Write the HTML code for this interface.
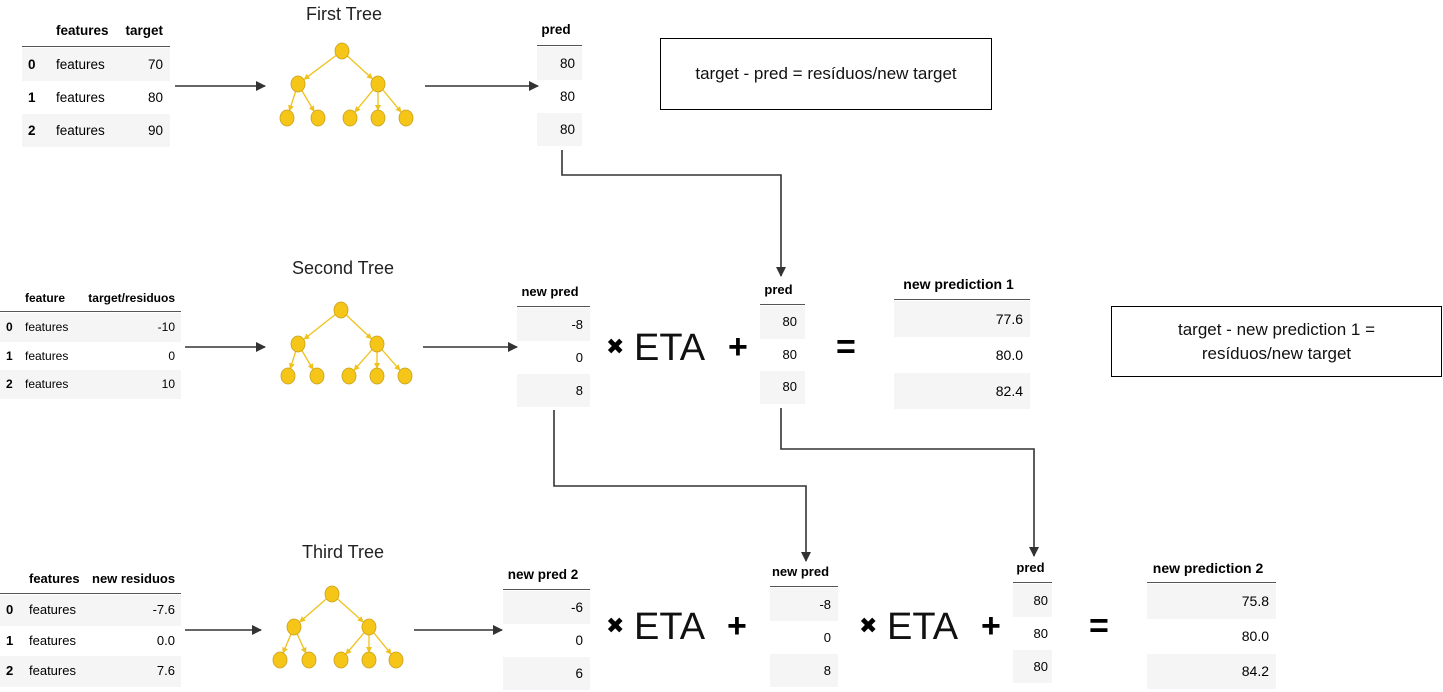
<!DOCTYPE html>
<html><head><meta charset="utf-8">
<style>
html,body{margin:0;padding:0;background:#fff;}
body{width:1443px;height:692px;position:relative;overflow:hidden;font-family:"Liberation Sans",Arial,sans-serif;color:#000;}
.abs{position:absolute;}
.cell{position:absolute;box-sizing:border-box;white-space:nowrap;}
.title{position:absolute;font-size:18px;color:#222;transform:translateX(-50%);white-space:nowrap;}
.op{position:absolute;font-weight:bold;}
.x{position:absolute;font-family:"DejaVu Sans",sans-serif;font-size:22px;color:#000;}
.eta{position:absolute;font-size:38px;color:#111;}
.box{position:absolute;border:1px solid #000;box-sizing:border-box;display:flex;align-items:center;justify-content:center;text-align:center;font-size:17px;line-height:24px;color:#111;}
svg{position:absolute;left:0;top:0;}
</style></head>
<body>
<svg id="lines" width="1443" height="692">
<defs>
<marker id="ah" markerWidth="10" markerHeight="10" refX="9" refY="5" orient="auto" markerUnits="userSpaceOnUse"><path d="M0,0 L10,5 L0,10 z" fill="#333"/></marker>
<marker id="ay" markerWidth="6" markerHeight="6" refX="5" refY="3" orient="auto" markerUnits="userSpaceOnUse"><path d="M0,0 L6,3 L0,6 z" fill="#f0c11a"/></marker>
</defs>
</svg>

<div class="title" style="left:344px;top:4px;">First Tree</div>
<div class="title" style="left:343px;top:258px;">Second Tree</div>
<div class="title" style="left:343px;top:542px;">Third Tree</div>

<div class="box" style="left:660px;top:38px;width:332px;height:72px;">target - pred = resíduos/new target</div>
<div class="box" style="left:1111px;top:306px;width:331px;height:71px;">target - new prediction 1 =<br>resíduos/new target</div>

<div class="x" style="left:606px;top:335px;">✖</div>
<div class="eta" style="left:634px;top:327px;">ETA</div>
<div class="op" style="left:728px;top:328px;font-size:34px;">+</div>
<div class="op" style="left:836px;top:328px;font-size:34px;">=</div>

<div class="x" style="left:606px;top:614px;">✖</div>
<div class="eta" style="left:634px;top:606px;">ETA</div>
<div class="op" style="left:727px;top:607px;font-size:34px;">+</div>
<div class="x" style="left:859px;top:614px;">✖</div>
<div class="eta" style="left:887px;top:606px;">ETA</div>
<div class="op" style="left:981px;top:607px;font-size:34px;">+</div>
<div class="op" style="left:1089px;top:607px;font-size:34px;">=</div>

<script>
// ---- data ----
const t1Headers = ["", "features", "target"];
const t1Index = ["0","1","2"];
const t1Feat = ["features","features","features"];
const t1Target = ["70","80","90"];
const t2Headers = ["", "feature", "target/residuos"];
const t2Target = ["-10","0","10"];
const t3Headers = ["", "features", "new residuos"];
const t3Target = ["-7.6","0.0","7.6"];
const pred1 = ["80","80","80"];
const newPred = ["-8","0","8"];
const newPrediction1 = ["77.6","80.0","82.4"];
const newPred2 = ["-6","0","6"];
const newPrediction2 = ["75.8","80.0","84.2"];

function cell(name, x, y, w, h, text, opts){
  const d = document.createElement('div');
  d.className = 'cell';
  
  
  d.style.left = x+'px'; d.style.top = y+'px'; d.style.width = w+'px'; d.style.height = h+'px';
  d.style.lineHeight = h+'px';
  d.style.fontSize = opts.fs+'px';
  d.style.textAlign = opts.align || 'left';
  if (opts.pad) d.style.padding = opts.pad;
  if (opts.bold) d.style.fontWeight = 'bold';
  if (opts.bg) d.style.background = opts.bg;
  if (opts.border) d.style.borderBottom = opts.border;
  d.textContent = text;
  document.body.appendChild(d);
  return d;
}

function table(name, x, lineY, headH, rowH, cols, headers, data, fs){
  const W = cols.reduce((a,c)=>a+c.w,0);
  cell(name+'-header-rule', x, lineY-headH, W, headH, '', {fs:fs, border:'1.5px solid #555'});
  let cx = x;
  cols.forEach((c,ci)=>{
    cell(name+'-header-'+ci, cx, lineY-headH+2, c.w, headH-2, headers[ci], {fs:fs, bold:true, align:c.halign||c.align, pad:c.pad});
    cx += c.w;
  });
  const n = data[0].length;
  for (let r=0;r<n;r++){
    const y = lineY + 1 + r*rowH;
    if (r%2===0) cell(name+'-row-bg-'+r, x, y, W, rowH, '', {fs:fs, bg:'#f5f5f5'});
    let cx2 = x;
    cols.forEach((c,ci)=>{
      cell(name+'-cell-'+r+'-'+ci, cx2, y, c.w, rowH, data[ci][r], {fs:fs, align:c.align, pad:c.pad, bold:ci===0 && c.idx});
      cx2 += c.w;
    });
  }
}

table('features-table-1', 22, 47, 34, 33,
  [{w:30,align:'left',pad:'0 0 0 6px',idx:true},{w:70,align:'left',pad:'0 0 0 4px'},{w:48,align:'right',pad:'0 7px 0 0'}],
  t1Headers, [t1Index,t1Feat,t1Target], 13.5);
table('features-table-2', 0, 312, 30, 28.7,
  [{w:22,align:'left',pad:'0 0 0 6px',idx:true},{w:60,align:'left',pad:'0 0 0 3px'},{w:99,align:'right',pad:'0 6px 0 0'}],
  t2Headers, [t1Index,t1Feat,t2Target], 12);
table('features-table-3', 0, 594, 32, 30.7,
  [{w:24,align:'left',pad:'0 0 0 6px',idx:true},{w:68,align:'left',pad:'0 0 0 5px'},{w:89,align:'right',pad:'0 6px 0 0'}],
  t3Headers, [t1Index,t1Feat,t3Target], 13);

table('pred-table-1', 537, 46, 34, 33, [{w:45,align:'right',pad:'0 7px 0 0',halign:'center'}], ['pred'], [pred1], 13.5);
table('new-pred-table-1', 517, 307, 32, 33, [{w:73,align:'right',pad:'0 7px 0 0',halign:'center'}], ['new pred'], [newPred], 13);
table('pred-table-2', 760, 305, 32, 32.7, [{w:45,align:'right',pad:'0 8px 0 0',halign:'center'}], ['pred'], [pred1], 13);
table('new-prediction-1-table', 894, 300, 34, 36, [{w:136,align:'right',pad:'0 7px 0 0',halign:'center'}], ['new prediction 1'], [newPrediction1], 14);
table('new-pred-2-table', 503, 590, 32, 33, [{w:87,align:'right',pad:'0 7px 0 0',halign:'center'}], ['new pred 2'], [newPred2], 13.5);
table('new-pred-table-2', 770, 587, 32, 33, [{w:68,align:'right',pad:'0 7px 0 0',halign:'center'}], ['new pred'], [newPred], 13);
table('pred-table-3', 1013, 583, 32, 33, [{w:39,align:'right',pad:'0 4px 0 0',halign:'center'}], ['pred'], [pred1], 13);
table('new-prediction-2-table', 1147, 583, 32, 35, [{w:129,align:'right',pad:'0 7px 0 0',halign:'center'}], ['new prediction 2'], [newPrediction2], 14);

const svg = document.getElementById('lines');
const NS = 'http://www.w3.org/2000/svg';
function el(tag, attrs, name){
  const e = document.createElementNS(NS, tag);
  for (const k in attrs) e.setAttribute(k, attrs[k]);
  
  
  svg.appendChild(e);
  return e;
}
function arrow(name, pts){
  el('polyline', {points: pts.map(p=>p.join(',')).join(' '), fill:'none', stroke:'#333', 'stroke-width':1.6, 'marker-end':'url(#ah)'}, name);
}
arrow('arrow-table1-to-tree1', [[175,86],[265,86]]);
arrow('arrow-tree1-to-pred', [[425,86],[538,86]]);
arrow('arrow-table2-to-tree2', [[185,347],[265,347]]);
arrow('arrow-tree2-to-newpred', [[423,347],[517,347]]);
arrow('arrow-table3-to-tree3', [[185,630],[261,630]]);
arrow('arrow-tree3-to-newpred2', [[414,630],[502,630]]);
arrow('connector-pred1-to-pred2', [[562,150],[562,175],[781,175],[781,276]]);
arrow('connector-newpred-to-newpred-stage3', [[554,410],[554,486],[806,486],[806,561]]);
arrow('connector-pred2-to-pred3', [[781,408],[781,449],[1034,449],[1034,556]]);

function tree(name, rx, ry, mids, leaves, leafY, midY){
  const col = '#f0c11a';
  const lines = [];
  mids.forEach(m=>lines.push([rx,ry,m,midY]));
  lines.push([mids[0],midY,leaves[0],leafY],[mids[0],midY,leaves[1],leafY]);
  lines.push([mids[1],midY,leaves[2],leafY],[mids[1],midY,leaves[3],leafY],[mids[1],midY,leaves[4],leafY]);
  lines.forEach((l,i)=>{
    const dx=l[2]-l[0], dy=l[3]-l[1], len=Math.hypot(dx,dy);
    el('line',{x1:l[0],y1:l[1],x2:l[2]-dx/len*8,y2:l[3]-dy/len*8,stroke:col,'stroke-width':1.3,'marker-end':'url(#ay)'}, name+'-edge-'+i);
  });
  const nodes = [[rx,ry]].concat(mids.map(m=>[m,midY]), leaves.map(l=>[l,leafY]));
  nodes.forEach((n,i)=>el('ellipse',{cx:n[0],cy:n[1],rx:7,ry:8,fill:'#f5c518',stroke:'#c9a01a','stroke-width':0.8}, name+'-node-'+i));
}
tree('first-tree', 342, 51, [298,378], [287,318,350,378,406], 118, 84);
tree('second-tree', 341, 310, [298,377], [288,317,349,377,405], 376, 344);
tree('third-tree', 332, 594, [294,369], [280,309,341,369,396], 660, 627);
</script>
</body></html>
